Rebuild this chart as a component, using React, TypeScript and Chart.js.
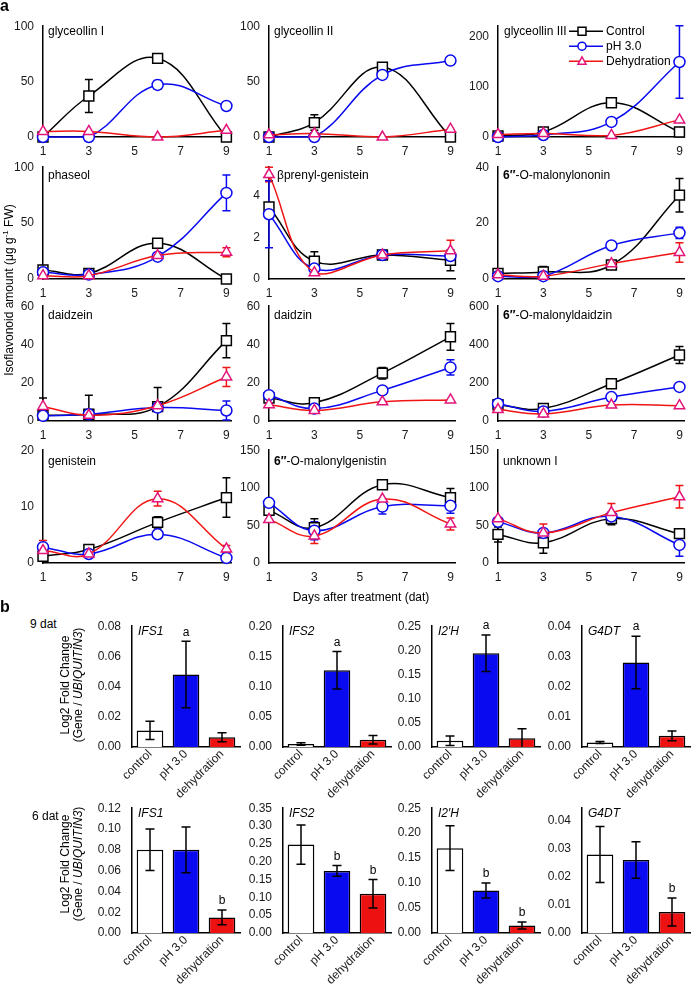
import React, { useEffect, useRef } from "react";
import { Chart, registerables } from "chart.js";

Chart.register(...registerables);

const FONT = "'Liberation Sans', Arial, Helvetica, sans-serif";
const BLACK = "#000000";
const BLUE = "#0a0af0";
const RED = "#f01414";
const PINK = "#e3157a";
const TICK_COLOR = "#1a1a1a";

// ---------------- Panel a data ----------------
const DAYS = [1, 3, 6, 9];
const DAY_TICKS = [1, 3, 5, 7, 9];
const SERIES_LABELS = ["Control", "pH 3.0", "Dehydration"];

const glyceollinI_control = [0, 37, 71, 0];
const glyceollinI_controlErr = [0, 15, 0, 0];
const glyceollinI_ph = [0, 0, 47, 28];
const glyceollinI_phErr = [0, 0, 4, 0];
const glyceollinI_dehyd = [5, 5, 0, 6];
const glyceollinI_dehydErr = [0, 0, 0, 0];

const glyceollinII_control = [0, 13, 63, 0];
const glyceollinII_controlErr = [0, 7, 4, 0];
const glyceollinII_ph = [0, 0, 56, 69];
const glyceollinII_phErr = [0, 0, 3, 0];
const glyceollinII_dehyd = [2, 3, 0, 7];
const glyceollinII_dehydErr = [0, 0, 0, 0];

const glyceollinIII_control = [2, 10, 68, 10];
const glyceollinIII_controlErr = [0, 0, 0, 0];
const glyceollinIII_ph = [0, 4, 30, 149];
const glyceollinIII_phErr = [0, 0, 0, 72];
const glyceollinIII_dehyd = [5, 7, 3, 34];
const glyceollinIII_dehydErr = [0, 0, 0, 0];

const phaseol_control = [8, 5, 32, 0];
const phaseol_controlErr = [0, 0, 0, 0];
const phaseol_ph = [6, 4, 20, 77];
const phaseol_phErr = [0, 0, 0, 16];
const phaseol_dehyd = [3, 3, 21, 24];
const phaseol_dehydErr = [0, 0, 0, 4];

const prenylGenistein_control = [3.45, 0.85, 1.15, 0.9];
const prenylGenistein_controlErr = [0, 0.45, 0, 0.5];
const prenylGenistein_ph = [3.1, 0.5, 1.15, 1.1];
const prenylGenistein_phErr = [1.6, 0, 0, 0];
const prenylGenistein_dehyd = [5.0, 0.3, 1.15, 1.35];
const prenylGenistein_dehydErr = [0.35, 0, 0, 0.5];

const malonylononin_control = [2, 2.5, 5, 30];
const malonylononin_controlErr = [0, 2, 0, 6];
const malonylononin_ph = [1, 1, 12, 16.5];
const malonylononin_phErr = [0, 0, 0, 2];
const malonylononin_dehyd = [1.5, 1, 5.5, 9.5];
const malonylononin_dehydErr = [0, 0, 0, 3.5];

const daidzein_control = [3, 3.5, 7.5, 42];
const daidzein_controlErr = [9, 10, 10, 9];
const daidzein_ph = [2.7, 3.5, 7, 5.5];
const daidzein_phErr = [0, 0, 0, 5];
const daidzein_dehyd = [7.6, 3, 8, 23];
const daidzein_dehydErr = [0, 0, 0, 5];

const daidzin_control = [12, 9.5, 25, 44];
const daidzin_controlErr = [0, 2, 3, 7];
const daidzin_ph = [13.5, 6.5, 16, 28];
const daidzin_phErr = [0, 0, 0, 4];
const daidzin_dehyd = [8.5, 5.5, 10, 11];
const daidzin_dehydErr = [0, 0, 0, 0];

const malonyldaidzin_control = [85, 65, 195, 345];
const malonyldaidzin_controlErr = [0, 0, 0, 45];
const malonyldaidzin_ph = [90, 50, 125, 178];
const malonyldaidzin_phErr = [0, 0, 0, 0];
const malonyldaidzin_dehyd = [60, 37, 83, 80];
const malonyldaidzin_dehydErr = [0, 0, 0, 0];

const genistein_control = [1.2, 2.4, 7.2, 11.6];
const genistein_controlErr = [0, 0, 1, 3.5];
const genistein_ph = [2.8, 1.6, 5.1, 0.9];
const genistein_phErr = [0, 0, 0, 0];
const genistein_dehyd = [2.2, 1.6, 11.4, 2.5];
const genistein_dehydErr = [1.8, 0, 1.3, 0.6];

const malonylgenistin_control = [70, 47, 104, 87];
const malonylgenistin_controlErr = [0, 12, 0, 12];
const malonylgenistin_ph = [80, 43, 75, 76];
const malonylgenistin_phErr = [0, 12, 10, 10];
const malonylgenistin_dehyd = [58, 36, 85, 52];
const malonylgenistin_dehydErr = [0, 10, 0, 8];

const unknownI_control = [38, 27, 59, 39];
const unknownI_controlErr = [10, 14, 8, 0];
const unknownI_ph = [55, 40, 62, 24];
const unknownI_phErr = [0, 0, 0, 15];
const unknownI_dehyd = [59, 40, 67, 88];
const unknownI_dehydErr = [0, 12, 12, 15];

// ---------------- Panel b data ----------------
const BAR_LABELS = ["control", "pH 3.0", "dehydration"];
const BAR_COLORS = ["#ffffff", "#0a0af0", "#ee1111"];

const IFS1_9dat = [0.011, 0.048, 0.0065];
const IFS1_9dat_err = [0.006, 0.022, 0.003];
const IFS1_9dat_sig = ["", "a", ""];
const IFS2_9dat = [0.005, 0.127, 0.012];
const IFS2_9dat_err = [0.002, 0.031, 0.007];
const IFS2_9dat_sig = ["", "a", ""];
const I2H_9dat = [0.013, 0.194, 0.018];
const I2H_9dat_err = [0.01, 0.038, 0.02];
const I2H_9dat_sig = ["", "a", ""];
const G4DT_9dat = [0.0015, 0.028, 0.0037];
const G4DT_9dat_err = [0.0003, 0.0087, 0.0016];
const G4DT_9dat_sig = ["", "a", ""];

const IFS1_6dat = [0.08, 0.08, 0.015];
const IFS1_6dat_err = [0.02, 0.022, 0.007];
const IFS1_6dat_sig = ["", "", "b"];
const IFS2_6dat = [0.248, 0.174, 0.11];
const IFS2_6dat_err = [0.055, 0.015, 0.04];
const IFS2_6dat_sig = ["", "b", "b"];
const I2H_6dat = [0.17, 0.085, 0.015];
const I2H_6dat_err = [0.045, 0.015, 0.007];
const I2H_6dat_sig = ["", "b", "b"];
const G4DT_6dat = [0.028, 0.026, 0.0075];
const G4DT_6dat_err = [0.01, 0.0065, 0.005];
const G4DT_6dat_sig = ["", "", "b"];

// ---------------- Layout ----------------
const COLS = [
  { axisX: 43, x9: 226 },
  { axisX: 269, x9: 450 },
  { axisX: 498, x9: 679 },
];
const ROWS = [
  { yTop: 22, y0: 137, tdy: 5 },
  { yTop: 163, y0: 279, tdy: 8 },
  { yTop: 302, y0: 421, tdy: 9 },
  { yTop: 446, y0: 563, tdy: 11 },
];
const BAR_COLS = [
  { axisX: 132, right: 240 },
  { axisX: 283, right: 391 },
  { axisX: 432, right: 540 },
  { axisX: 582, right: 690 },
];
const BAR_ROWS = [
  { yTop: 624, y0: 747 },
  { yTop: 806, y0: 933 },
];

type Part = { text: string; bold?: boolean };
type LineSpec = {
  title: Part[];
  titleDx: number;
  col: number;
  row: number;
  yMax: number;
  yTicks: number[];
  control: number[];
  controlErr: number[];
  ph: number[];
  phErr: number[];
  dehyd: number[];
  dehydErr: number[];
  legend?: boolean;
};

const LINE_PANELS: LineSpec[] = [
  { title: [{ text: "glyceollin I" }], titleDx: 5, col: 0, row: 0, yMax: 100, yTicks: [0, 50, 100],
    control: glyceollinI_control, controlErr: glyceollinI_controlErr, ph: glyceollinI_ph, phErr: glyceollinI_phErr, dehyd: glyceollinI_dehyd, dehydErr: glyceollinI_dehydErr },
  { title: [{ text: "glyceollin II" }], titleDx: 5, col: 1, row: 0, yMax: 100, yTicks: [0, 50, 100],
    control: glyceollinII_control, controlErr: glyceollinII_controlErr, ph: glyceollinII_ph, phErr: glyceollinII_phErr, dehyd: glyceollinII_dehyd, dehydErr: glyceollinII_dehydErr },
  { title: [{ text: "glyceollin III" }], titleDx: 6, col: 2, row: 0, yMax: 220, yTicks: [0, 100, 200], legend: true,
    control: glyceollinIII_control, controlErr: glyceollinIII_controlErr, ph: glyceollinIII_ph, phErr: glyceollinIII_phErr, dehyd: glyceollinIII_dehyd, dehydErr: glyceollinIII_dehydErr },
  { title: [{ text: "phaseol" }], titleDx: 5, col: 0, row: 1, yMax: 100, yTicks: [0, 50, 100],
    control: phaseol_control, controlErr: phaseol_controlErr, ph: phaseol_ph, phErr: phaseol_phErr, dehyd: phaseol_dehyd, dehydErr: phaseol_dehydErr },
  { title: [{ text: "\u03B2prenyl-genistein" }], titleDx: 8, col: 1, row: 1, yMax: 5.35, yTicks: [0, 2, 4],
    control: prenylGenistein_control, controlErr: prenylGenistein_controlErr, ph: prenylGenistein_ph, phErr: prenylGenistein_phErr, dehyd: prenylGenistein_dehyd, dehydErr: prenylGenistein_dehydErr },
  { title: [{ text: "6\u2033", bold: true }, { text: "-O-malonylononin" }], titleDx: 5, col: 2, row: 1, yMax: 40, yTicks: [0, 20, 40],
    control: malonylononin_control, controlErr: malonylononin_controlErr, ph: malonylononin_ph, phErr: malonylononin_phErr, dehyd: malonylononin_dehyd, dehydErr: malonylononin_dehydErr },
  { title: [{ text: "daidzein" }], titleDx: 5, col: 0, row: 2, yMax: 60, yTicks: [0, 20, 40, 60],
    control: daidzein_control, controlErr: daidzein_controlErr, ph: daidzein_ph, phErr: daidzein_phErr, dehyd: daidzein_dehyd, dehydErr: daidzein_dehydErr },
  { title: [{ text: "daidzin" }], titleDx: 5, col: 1, row: 2, yMax: 60, yTicks: [0, 20, 40, 60],
    control: daidzin_control, controlErr: daidzin_controlErr, ph: daidzin_ph, phErr: daidzin_phErr, dehyd: daidzin_dehyd, dehydErr: daidzin_dehydErr },
  { title: [{ text: "6\u2033", bold: true }, { text: "-O-malonyldaidzin" }], titleDx: 5, col: 2, row: 2, yMax: 600, yTicks: [0, 200, 400, 600],
    control: malonyldaidzin_control, controlErr: malonyldaidzin_controlErr, ph: malonyldaidzin_ph, phErr: malonyldaidzin_phErr, dehyd: malonyldaidzin_dehyd, dehydErr: malonyldaidzin_dehydErr },
  { title: [{ text: "genistein" }], titleDx: 5, col: 0, row: 3, yMax: 20, yTicks: [0, 10, 20],
    control: genistein_control, controlErr: genistein_controlErr, ph: genistein_ph, phErr: genistein_phErr, dehyd: genistein_dehyd, dehydErr: genistein_dehydErr },
  { title: [{ text: "6\u2033", bold: true }, { text: "-O-malonylgenistin" }], titleDx: 5, col: 1, row: 3, yMax: 150, yTicks: [0, 50, 100, 150],
    control: malonylgenistin_control, controlErr: malonylgenistin_controlErr, ph: malonylgenistin_ph, phErr: malonylgenistin_phErr, dehyd: malonylgenistin_dehyd, dehydErr: malonylgenistin_dehydErr },
  { title: [{ text: "unknown I" }], titleDx: 5, col: 2, row: 3, yMax: 150, yTicks: [0, 50, 100, 150],
    control: unknownI_control, controlErr: unknownI_controlErr, ph: unknownI_ph, phErr: unknownI_phErr, dehyd: unknownI_dehyd, dehydErr: unknownI_dehydErr },
];

type BarSpec = {
  gene: string;
  col: number;
  row: number;
  yMax: number;
  yTicks: number[];
  values: number[];
  errs: number[];
  sig: string[];
};

const BAR_PANELS: BarSpec[] = [
  { gene: "IFS1", col: 0, row: 0, yMax: 0.08, yTicks: [0, 0.02, 0.04, 0.06, 0.08], values: IFS1_9dat, errs: IFS1_9dat_err, sig: IFS1_9dat_sig },
  { gene: "IFS2", col: 1, row: 0, yMax: 0.2, yTicks: [0, 0.05, 0.1, 0.15, 0.2], values: IFS2_9dat, errs: IFS2_9dat_err, sig: IFS2_9dat_sig },
  { gene: "I2\u2032H", col: 2, row: 0, yMax: 0.25, yTicks: [0, 0.05, 0.1, 0.15, 0.2, 0.25], values: I2H_9dat, errs: I2H_9dat_err, sig: I2H_9dat_sig },
  { gene: "G4DT", col: 3, row: 0, yMax: 0.04, yTicks: [0, 0.01, 0.02, 0.03, 0.04], values: G4DT_9dat, errs: G4DT_9dat_err, sig: G4DT_9dat_sig },
  { gene: "IFS1", col: 0, row: 1, yMax: 0.12, yTicks: [0, 0.02, 0.04, 0.06, 0.08, 0.1, 0.12], values: IFS1_6dat, errs: IFS1_6dat_err, sig: IFS1_6dat_sig },
  { gene: "IFS2", col: 1, row: 1, yMax: 0.35, yTicks: [0, 0.05, 0.1, 0.15, 0.2, 0.25, 0.3, 0.35], values: IFS2_6dat, errs: IFS2_6dat_err, sig: IFS2_6dat_sig },
  { gene: "I2\u2032H", col: 2, row: 1, yMax: 0.25, yTicks: [0, 0.05, 0.1, 0.15, 0.2, 0.25], values: I2H_6dat, errs: I2H_6dat_err, sig: I2H_6dat_sig },
  { gene: "G4DT", col: 3, row: 1, yMax: 0.0445, yTicks: [0, 0.01, 0.02, 0.03, 0.04], values: G4DT_6dat, errs: G4DT_6dat_err, sig: G4DT_6dat_sig },
];

// ---------------- Drawing helpers ----------------
function drawMarker(ctx: CanvasRenderingContext2D, style: string, x: number, y: number, r: number, stroke: string) {
  ctx.save();
  ctx.fillStyle = "#ffffff";
  ctx.strokeStyle = stroke;
  ctx.lineWidth = 1.5;
  ctx.beginPath();
  if (style === "rect") {
    ctx.rect(x - r, y - r, 2 * r, 2 * r);
  } else if (style === "circle") {
    ctx.arc(x, y, r, 0, Math.PI * 2);
  } else {
    ctx.moveTo(x, y - r * 1.1);
    ctx.lineTo(x + r, y + r * 0.75);
    ctx.lineTo(x - r, y + r * 0.75);
    ctx.closePath();
  }
  ctx.fill();
  ctx.stroke();
  ctx.restore();
}

function drawErrBar(ctx: CanvasRenderingContext2D, x: number, yScale: any, v: number, e: number, color: string, cap: number) {
  if (!e) return;
  const hi = v + e;
  const loRaw = v - e;
  const lo = Math.max(0, loRaw);
  const yh = yScale.getPixelForValue(hi);
  const yl = yScale.getPixelForValue(lo);
  ctx.save();
  ctx.strokeStyle = color;
  ctx.lineWidth = 1.5;
  ctx.beginPath();
  ctx.moveTo(x, yh);
  ctx.lineTo(x, yl);
  ctx.moveTo(x - cap, yh);
  ctx.lineTo(x + cap, yh);
  if (loRaw > 0) {
    ctx.moveTo(x - cap, yl);
    ctx.lineTo(x + cap, yl);
  }
  ctx.stroke();
  ctx.restore();
}

// ---------------- Line panel ----------------
function LinePanel({ spec }: { spec: LineSpec }) {
  const ref = useRef<HTMLCanvasElement>(null);
  const col = COLS[spec.col];
  const row = ROWS[spec.row];
  const YW = 44, PT = 12, XH = 24, PR = 10;
  const XMAX = 9.2;
  const pxPerDay = (col.x9 - col.axisX) / 8;
  const plotW = pxPerDay * (XMAX - 1);
  const left = col.axisX - YW;
  const top = row.yTop - PT;
  const width = Math.round(YW + plotW + PR);
  const height = Math.round(PT + (row.y0 - row.yTop) + XH);

  useEffect(() => {
    const canvas = ref.current;
    if (!canvas) return;
    const series = [
      { label: SERIES_LABELS[2], d: spec.dehyd, e: spec.dehydErr, color: RED, ps: "triangle", r: 6, pb: PINK },
      { label: SERIES_LABELS[1], d: spec.ph, e: spec.phErr, color: BLUE, ps: "circle", r: 5.5, pb: BLUE },
      { label: SERIES_LABELS[0], d: spec.control, e: spec.controlErr, color: BLACK, ps: "rect", r: 7, pb: BLACK },
    ];
    const tickFont = { family: FONT, size: 12 };
    const chart = new Chart(canvas, {
      type: "line",
      data: {
        datasets: series.map((se) => ({
          label: se.label,
          data: DAYS.map((x, i) => ({ x, y: se.d[i] })),
          borderColor: se.color,
          borderWidth: 1.5,
          tension: 0.4,
          fill: false,
          pointStyle: se.ps as any,
          pointRadius: se.r,
          pointBorderColor: se.pb,
          pointBackgroundColor: "#ffffff",
          pointBorderWidth: 1.5,
          clip: false as any,
        })),
      },
      options: {
        animation: false,
        responsive: false,
        maintainAspectRatio: false,
        devicePixelRatio: 1,
        events: [],
        layout: { padding: { top: PT, right: PR, left: 0, bottom: 0 } },
        plugins: { legend: { display: false }, tooltip: { enabled: false } },
        scales: {
          x: {
            type: "linear",
            min: 1,
            max: XMAX,
            grid: { display: false, drawTicks: false },
            border: { display: true, color: BLACK, width: 1.5 },
            afterBuildTicks: (s: any) => {
              s.ticks = DAY_TICKS.map((v) => ({ value: v }));
            },
            afterFit: (s: any) => {
              s.height = XH;
            },
            ticks: { font: tickFont, color: TICK_COLOR, padding: 7, maxRotation: 0, autoSkip: false },
          },
          y: {
            type: "linear",
            min: 0,
            max: spec.yMax,
            grid: { display: false, drawTicks: false },
            border: { display: true, color: BLACK, width: 1.5 },
            afterBuildTicks: (s: any) => {
              s.ticks = spec.yTicks.map((v) => ({ value: v }));
            },
            afterFit: (s: any) => {
              s.width = YW;
            },
            ticks: { font: tickFont, color: TICK_COLOR, padding: 9, autoSkip: false },
          },
        },
      },
      plugins: [
        {
          id: "extras",
          beforeDatasetsDraw(c: any) {
            const ctx = c.ctx;
            const xs = c.scales.x;
            const ys = c.scales.y;
            series.forEach((se) => {
              DAYS.forEach((d, i) => {
                drawErrBar(ctx, xs.getPixelForValue(d), ys, se.d[i], se.e[i], se.color, 4);
              });
            });
          },
          afterDraw(c: any) {
            const ctx = c.ctx;
            const ca = c.chartArea;
            ctx.save();
            ctx.fillStyle = BLACK;
            ctx.textBaseline = "middle";
            ctx.textAlign = "left";
            let x = ca.left + spec.titleDx;
            const y = ca.top + row.tdy;
            spec.title.forEach((p) => {
              ctx.font = `${p.bold ? "bold " : ""}12px ${FONT}`;
              ctx.fillText(p.text, x, y);
              x += ctx.measureText(p.text).width;
            });
            if (spec.legend) {
              const items = [
                { label: SERIES_LABELS[0], color: BLACK, ps: "rect", r: 4, pb: BLACK },
                { label: SERIES_LABELS[1], color: BLUE, ps: "circle", r: 4, pb: BLUE },
                { label: SERIES_LABELS[2], color: RED, ps: "triangle", r: 4, pb: PINK },
              ];
              items.forEach((it, i) => {
                const ly = ca.top + 5 + i * 15;
                const x0 = ca.left + 71;
                const x1 = ca.left + 105;
                ctx.strokeStyle = it.color;
                ctx.lineWidth = 1.5;
                ctx.beginPath();
                ctx.moveTo(x0, ly);
                ctx.lineTo(x1, ly);
                ctx.stroke();
                drawMarker(ctx, it.ps, (x0 + x1) / 2 - 4, ly, it.r, it.pb);
                ctx.fillStyle = BLACK;
                ctx.font = `12px ${FONT}`;
                ctx.fillText(it.label, ca.left + 108, ly);
              });
            }
            ctx.restore();
          },
        },
      ],
    } as any);
    return () => chart.destroy();
  }, []);

  return (
    <canvas
      ref={ref}
      width={width}
      height={height}
      style={{ position: "absolute", left, top, width, height }}
    />
  );
}

// ---------------- Bar panel ----------------
function BarPanel({ spec }: { spec: BarSpec }) {
  const ref = useRef<HTMLCanvasElement>(null);
  const col = BAR_COLS[spec.col];
  const row = BAR_ROWS[spec.row];
  const YW = 52, PT = 16, XH = 56, PR = 4;
  const left = col.axisX - YW;
  const top = row.yTop - PT;
  const width = Math.round(YW + (col.right - col.axisX) + PR);
  const height = Math.round(PT + (row.y0 - row.yTop) + XH);

  useEffect(() => {
    const canvas = ref.current;
    if (!canvas) return;
    const tickFont = { family: FONT, size: 12 };
    const chart = new Chart(canvas, {
      type: "bar",
      data: {
        labels: BAR_LABELS,
        datasets: [
          {
            data: spec.values,
            backgroundColor: BAR_COLORS,
            borderColor: BLACK,
            borderWidth: 1.5,
            barPercentage: 0.74,
            categoryPercentage: 1,
          },
        ],
      },
      options: {
        animation: false,
        responsive: false,
        maintainAspectRatio: false,
        devicePixelRatio: 1,
        events: [],
        layout: { padding: { top: PT, right: PR, left: 0, bottom: 0 } },
        plugins: { legend: { display: false }, tooltip: { enabled: false } },
        scales: {
          x: {
            grid: { display: false, drawTicks: false },
            border: { display: true, color: BLACK, width: 1.5 },
            afterFit: (s: any) => {
              s.height = XH;
            },
            ticks: { font: tickFont, color: TICK_COLOR, padding: 0, minRotation: 45, maxRotation: 45, autoSkip: false },
          },
          y: {
            type: "linear",
            min: 0,
            max: spec.yMax,
            grid: { display: false, drawTicks: false },
            border: { display: true, color: BLACK, width: 1.5 },
            afterBuildTicks: (s: any) => {
              s.ticks = spec.yTicks.map((v) => ({ value: v }));
            },
            afterFit: (s: any) => {
              s.width = YW;
            },
            ticks: {
              font: tickFont,
              color: TICK_COLOR,
              padding: 11,
              autoSkip: false,
              callback: (v: any) => Number(v).toFixed(2),
            },
          },
        },
      },
      plugins: [
        {
          id: "barExtras",
          afterDatasetsDraw(c: any) {
            const ctx = c.ctx;
            const xs = c.scales.x;
            const ys = c.scales.y;
            spec.values.forEach((v, i) => {
              const x = xs.getPixelForValue(i);
              drawErrBar(ctx, x, ys, v, spec.errs[i], BLACK, 4.5);
              if (spec.sig[i]) {
                const yt = ys.getPixelForValue(v + spec.errs[i]);
                ctx.save();
                ctx.fillStyle = BLACK;
                ctx.font = `12px ${FONT}`;
                ctx.textAlign = "center";
                ctx.textBaseline = "bottom";
                ctx.fillText(spec.sig[i], x, yt - 3);
                ctx.restore();
              }
            });
          },
          afterDraw(c: any) {
            const ctx = c.ctx;
            const ca = c.chartArea;
            ctx.save();
            ctx.fillStyle = BLACK;
            ctx.font = `italic 12px ${FONT}`;
            ctx.textAlign = "left";
            ctx.textBaseline = "middle";
            ctx.fillText(spec.gene, ca.left + 6, ca.top + 5);
            ctx.restore();
          },
        },
      ],
    } as any);
    return () => chart.destroy();
  }, []);

  return (
    <canvas
      ref={ref}
      width={width}
      height={height}
      style={{ position: "absolute", left, top, width, height }}
    />
  );
}

const txt = (extra: React.CSSProperties): React.CSSProperties => ({
  position: "absolute",
  fontFamily: FONT,
  fontSize: 12,
  lineHeight: "14px",
  color: "#000",
  whiteSpace: "nowrap",
  ...extra,
});

export default function App() {
  return (
    <div
      style={{
        position: "absolute",
        left: 0,
        top: 0,
        width: 692,
        height: 985,
        background: "#ffffff",
        overflow: "hidden",
        fontFamily: FONT,
      }}
    >
      {LINE_PANELS.map((s, i) => (
        <LinePanel key={"l" + i} spec={s} />
      ))}
      {BAR_PANELS.map((s, i) => (
        <BarPanel key={"b" + i} spec={s} />
      ))}

      <div style={txt({ left: 0, top: -3, fontSize: 16, lineHeight: "18px", fontWeight: "bold" })}>a</div>
      <div style={txt({ left: 0, top: 598, fontSize: 16, lineHeight: "18px", fontWeight: "bold" })}>b</div>

      <div
        style={txt({
          left: 9,
          top: 290,
          transform: "translate(-50%, -50%) rotate(-90deg)",
        })}
      >
        Isoflavonoid amount (μg g<sup style={{ fontSize: 8, verticalAlign: "5px", lineHeight: 0 }}>-1</sup> FW)
      </div>

      <div style={txt({ left: 361, top: 590, transform: "translateX(-50%)" })}>Days after treatment (dat)</div>

      <div style={txt({ left: 30, top: 617 })}>9 dat</div>
      <div style={txt({ left: 32, top: 809 })}>6 dat</div>

      {[685, 864].map((cy, i) => (
        <div
          key={"yt" + i}
          style={txt({
            left: 72,
            top: cy,
            textAlign: "center",
            lineHeight: "13px",
            transform: "translate(-50%, -50%) rotate(-90deg)",
          })}
        >
          Log2 Fold Change
          <br />
          (Gene / <i>UBIQUITIN3</i>)
        </div>
      ))}
    </div>
  );
}
